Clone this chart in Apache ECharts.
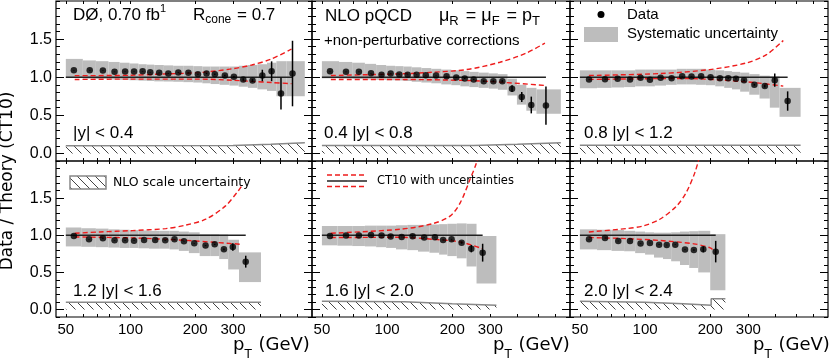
<!DOCTYPE html>
<html>
<head>
<meta charset="utf-8">
<script src="https://cdn.jsdelivr.net/npm/echarts@6/dist/echarts.min.js"></script>
<style>
html,body{margin:0;padding:0;background:#fff}
#chart{width:831px;height:360px}
</style>
</head>
<body>
<div id="chart"></div>
<script>
// tick labels
var xTickVals = [50, 60, 70, 80, 90, 100, 200, 300, 400, 500, 600];
var xLabelVals = [50, 100, 200, 300];
var yMajorVals = [0, 0.5, 1, 1.5];
var rapidityLabels = ['|y| < 0.4', '0.4 |y| < 0.8', '0.8 |y| < 1.2', '1.2 |y| < 1.6', '1.6 |y| < 2.0', '2.0 |y| < 2.4'];

// |y| < 0.4
var pt0 = [54.5,64.6,74.4,84.3,94.4,103.9,113.9,123.6,136,150,167,186,206,226,247,275,303,335,370,411,454,502,568];
var ratio0 = [1.091,1.091,1.087,1.07,1.074,1.074,1.078,1.065,1.057,1.048,1.061,1.057,1.039,1.048,1.039,1.022,1.005,0.97,0.957,1.022,1.078,0.787,1.048];
var stat0 = [0.004,0.004,0.004,0.004,0.004,0.004,0.004,0.004,0.004,0.005,0.005,0.006,0.007,0.008,0.009,0.01,0.012,0.015,0.02,0.076,0.13,0.21,0.43];
var edges0 = [50,60,69,79,89,99,109,119,129,143,158,176,196,216,236,260,289,319,352,390,432,478,532,648];
var sysHi0 = [1.24,1.22,1.21,1.2,1.19,1.18,1.17,1.165,1.16,1.155,1.15,1.15,1.145,1.14,1.14,1.14,1.14,1.15,1.16,1.17,1.19,1.21,1.21];
var sysLo0 = [0.99,0.98,0.975,0.97,0.965,0.96,0.955,0.95,0.945,0.943,0.94,0.935,0.93,0.92,0.91,0.9,0.89,0.875,0.86,0.84,0.82,0.75,0.75];
var ctUpPt0 = [55,100,136,209,297,367,454,562];
var ctUp0 = [1.02,1.025,1.04,1.06,1.11,1.16,1.24,1.37];
var ctDnPt0 = [55,100,209,297,367,454,562];
var ctDn0 = [0.97,0.975,0.975,0.96,0.945,0.93,0.915];
var scalePt0 = [50,300,450,648];
var scale0 = [0.10,0.105,0.12,0.14];

// 0.4 < |y| < 0.8
var pt1 = [54.5,64.6,74.1,84.3,94.3,103.9,113.9,124.5,136.9,151,168.4,188.3,208.7,228.4,251.3,279.6,309.8,340.9,377.9,419,463.7,542];
var ratio1 = [1.078,1.07,1.07,1.052,1.031,1.048,1.035,1.031,1.031,1.026,1.022,1.013,0.996,0.983,0.97,0.948,0.948,0.948,0.849,0.739,0.635,0.627];
var stat1 = [0.004,0.004,0.004,0.004,0.004,0.004,0.004,0.004,0.004,0.004,0.004,0.004,0.006,0.007,0.008,0.01,0.012,0.015,0.045,0.065,0.11,0.25];
var edges1 = [50,60,69,79,89,99,109,119,130,144,160,178,198,218,240,265,295,325,360,398,440,490,635];
var sysHi1 = [1.21,1.2,1.19,1.175,1.16,1.15,1.145,1.14,1.13,1.12,1.11,1.1,1.09,1.08,1.07,1.06,1.05,1.04,0.98,0.9,0.86,0.84];
var sysLo1 = [0.985,0.98,0.975,0.97,0.965,0.96,0.957,0.95,0.94,0.93,0.92,0.905,0.895,0.88,0.87,0.86,0.85,0.835,0.76,0.64,0.56,0.52];
var ctUpPt1 = [55,115,163,233,332,441,536];
var ctUp1 = [1.022,1.044,1.065,1.1,1.196,1.318,1.448];
var ctDnPt1 = [55,115,233,332,536];
var ctDn1 = [0.97,0.97,0.957,0.935,0.892];
var scalePt1 = [50,250,400,635];
var scale1 = [0.104,0.105,0.12,0.14];

// 0.8 < |y| < 1.2
var pt2 = [55.1,65.3,74.7,85.2,95.3,105.3,118,132.6,148.4,163.9,181.5,200.7,221.7,242.3,263,286.6,319.9,357.4,397.3,455.7];
var ratio2 = [0.97,0.974,0.979,0.97,0.992,0.966,0.992,0.987,1.013,1.009,1.013,1.0,0.987,0.987,0.979,0.961,0.901,0.883,0.961,0.687];
var stat2 = [0.004,0.004,0.004,0.004,0.004,0.004,0.004,0.004,0.004,0.004,0.005,0.005,0.006,0.007,0.008,0.01,0.012,0.018,0.087,0.127];
var edges2 = [50,60,70,80,90,100,111,125,140,156,172,191,211,232,252,275,303,338,377,418,523];
var sysHi2 = [1.09,1.09,1.09,1.09,1.1,1.1,1.1,1.1,1.11,1.11,1.11,1.1,1.09,1.08,1.07,1.06,1.04,1.02,1.01,0.86];
var sysLo2 = [0.855,0.86,0.865,0.87,0.88,0.88,0.89,0.9,0.905,0.905,0.9,0.895,0.88,0.86,0.84,0.81,0.77,0.72,0.6,0.48];
var ctUpPt2 = [55,118,199,294,364,435];
var ctUp2 = [1.022,1.048,1.1,1.187,1.296,1.482];
var ctDnPt2 = [55,150,294,435];
var ctDn2 = [0.97,0.983,0.939,0.883];
var scalePt2 = [50,523];
var scale2 = [0.108,0.108];

// 1.2 < |y| < 1.6
var pt3 = [54.5,64.1,74.4,84.3,94.4,103.9,115.7,130.3,145.1,160.3,177.4,198.1,223.6,246.7,272.3,299.6,344];
var ratio3 = [0.991,0.946,0.959,0.932,0.932,0.928,0.936,0.936,0.932,0.946,0.919,0.892,0.861,0.878,0.811,0.842,0.645];
var stat3 = [0.004,0.004,0.004,0.004,0.004,0.004,0.004,0.004,0.004,0.004,0.004,0.004,0.006,0.008,0.012,0.05,0.08];
var edges3 = [50,59,69,79,89,99,109,122,137,152,168,187,210,235,259,285,320,405];
var sysHi3 = [1.105,1.095,1.09,1.08,1.075,1.07,1.065,1.06,1.06,1.06,1.05,1.04,1.015,1.015,1.01,0.94,0.77];
var sysLo3 = [0.85,0.845,0.84,0.835,0.83,0.83,0.825,0.82,0.82,0.81,0.79,0.76,0.72,0.72,0.68,0.54,0.37];
var ctUpPt3 = [55,72,102,146,180,224,277,318,330];
var ctUp3 = [1.027,1.045,1.063,1.09,1.135,1.216,1.396,1.6,1.666];
var ctDnPt3 = [55,102,180,330];
var ctDn3 = [0.977,0.965,0.932,0.878];
var scalePt3 = [50,405];
var scale3 = [0.1,0.1];

// 1.6 < |y| < 2.0
var pt4 = [54.5,64.6,74.1,84.3,94.3,103.9,116.8,131.2,148.4,166.3,181.5,198.6,221,245,276.4];
var ratio4 = [0.991,0.996,0.996,1.004,0.996,0.982,0.977,0.986,0.969,0.973,0.937,0.946,0.901,0.82,0.766];
var stat4 = [0.004,0.004,0.004,0.004,0.004,0.004,0.004,0.004,0.004,0.004,0.005,0.006,0.015,0.05,0.12];
var edges4 = [50,59,69,79,89,99,110,124,139,157,174,190,210,233,259,320];
var sysHi4 = [1.125,1.125,1.125,1.13,1.13,1.13,1.135,1.14,1.14,1.145,1.15,1.155,1.16,1.155,0.99];
var sysLo4 = [0.865,0.86,0.855,0.85,0.84,0.83,0.81,0.8,0.78,0.765,0.74,0.72,0.69,0.58,0.35];
var ctUpPt4 = [55,115,163,196,218,242,259,275];
var ctUp4 = [1.027,1.081,1.158,1.261,1.44,1.757,1.98,2.3];
var ctDnPt4 = [55,115,163,218,276];
var ctDn4 = [0.969,0.973,0.946,0.91,0.82];
var scalePt4 = [50,120,200,320];
var scale4 = [0.112,0.105,0.08,0.058];

// 2.0 < |y| < 2.4
var pt5 = [55.1,65.3,75.2,85.2,95.3,105.3,116.1,125.9,137.9,152.9,168.1,185.8,212];
var ratio5 = [0.946,0.964,0.923,0.923,0.888,0.896,0.874,0.869,0.874,0.807,0.801,0.811,0.78];
var stat5 = [0.004,0.004,0.004,0.004,0.004,0.004,0.004,0.004,0.004,0.004,0.01,0.04,0.145];
var edges5 = [50,60,70,80,90,100,110,121,132,145,160,176,200,235];
var sysHi5 = [1.08,1.075,1.07,1.06,1.05,1.04,1.035,1.035,1.04,1.05,1.055,1.06,1.015];
var sysLo5 = [0.81,0.8,0.79,0.785,0.76,0.74,0.7,0.68,0.65,0.6,0.56,0.5,0.26];
var ctUpPt5 = [55,82,98,117,140,155,170,180];
var ctUp5 = [1.045,1.09,1.126,1.216,1.396,1.577,1.847,2.1];
var ctDnPt5 = [55,82,117,168,200,212];
var ctDn5 = [0.97,0.955,0.93,0.885,0.83,0.77];
var scalePt5 = [50,100,150,202,202,235];
var scale5 = [0.112,0.1,0.08,0.058,0.145,0.145];

var panels = [
  {pt:pt0, ratio:ratio0, stat:stat0, edges:edges0, hi:sysHi0, lo:sysLo0, upX:ctUpPt0, up:ctUp0, dnX:ctDnPt0, dn:ctDn0, scX:scalePt0, sc:scale0},
  {pt:pt1, ratio:ratio1, stat:stat1, edges:edges1, hi:sysHi1, lo:sysLo1, upX:ctUpPt1, up:ctUp1, dnX:ctDnPt1, dn:ctDn1, scX:scalePt1, sc:scale1},
  {pt:pt2, ratio:ratio2, stat:stat2, edges:edges2, hi:sysHi2, lo:sysLo2, upX:ctUpPt2, up:ctUp2, dnX:ctDnPt2, dn:ctDn2, scX:scalePt2, sc:scale2},
  {pt:pt3, ratio:ratio3, stat:stat3, edges:edges3, hi:sysHi3, lo:sysLo3, upX:ctUpPt3, up:ctUp3, dnX:ctDnPt3, dn:ctDn3, scX:scalePt3, sc:scale3},
  {pt:pt4, ratio:ratio4, stat:stat4, edges:edges4, hi:sysHi4, lo:sysLo4, upX:ctUpPt4, up:ctUp4, dnX:ctDnPt4, dn:ctDn4, scX:scalePt4, sc:scale4},
  {pt:pt5, ratio:ratio5, stat:stat5, edges:edges5, hi:sysHi5, lo:sysLo5, upX:ctUpPt5, up:ctUp5, dnX:ctDnPt5, dn:ctDn5, scX:scalePt5, sc:scale5}
];

// panel boxes
var gridPos = [
  {left:56, top:1, width:256, height:160},
  {left:312, top:1, width:258, height:160},
  {left:570, top:1, width:258, height:160},
  {left:56, top:161, width:256, height:156},
  {left:312, top:161, width:258, height:156},
  {left:570, top:161, width:258, height:156}
];

var SANS = 'Liberation Sans';
var DEJA = 'DejaVu Sans';
var RED = '#ee1c1c';
var GRAY = '#bdbdbd';

// hatch for the NLO scale band
var hatch = document.createElement('canvas');
hatch.width = 9; hatch.height = 9;
var hc = hatch.getContext('2d');
hc.strokeStyle = '#444';
hc.lineWidth = 1;
hc.beginPath();
hc.moveTo(0, 0); hc.lineTo(9, 9);
hc.moveTo(-1, 8); hc.lineTo(1, 10);
hc.moveTo(8, -1); hc.lineTo(10, 1);
hc.stroke();

function zip(a, b) {
  return a.map(function (v, k) { return [v, b[k]]; });
}

var grids = [], xAxes = [], yAxes = [], series = [];

gridPos.forEach(function (g, i) {
  grids.push({left:g.left, top:g.top, width:g.width, height:g.height, show:true,
    borderColor:'#000', borderWidth:1.2, backgroundColor:'transparent'});
  ['bottom', 'top'].forEach(function (pos) {
    xAxes.push({type:'log', logBase:10, gridIndex:i, position:pos, min:45, max:700,
      axisLine:{show:false, onZero:false}, splitLine:{show:false}, minorTick:{show:false},
      axisTick:{show:true, inside:true, length:3, customValues:xTickVals, lineStyle:{color:'#000', width:1}},
      axisLabel:{show:(pos === 'bottom' && i >= 3), customValues:xLabelVals, margin:5,
        fontSize:15, fontFamily:SANS, color:'#000',
        formatter:function (v) { return String(Math.round(v)); }}});
  });
  ['left', 'right'].forEach(function (pos) {
    // minor ticks every 0.1
    yAxes.push({type:'value', gridIndex:i, position:pos, min:-0.1, max:2.0, interval:0.1,
      axisLine:{show:false, onZero:false}, splitLine:{show:false},
      axisTick:{show:true, inside:true, length:4, lineStyle:{color:'#000', width:1}},
      axisLabel:{show:false}});
    // major ticks + labels
    yAxes.push({type:'value', gridIndex:i, position:pos, min:-0.1, max:2.0,
      axisLine:{show:false, onZero:false}, splitLine:{show:false},
      axisTick:{show:true, inside:true, length:8, customValues:yMajorVals, lineStyle:{color:'#000', width:1}},
      axisLabel:{show:(pos === 'left' && i % 3 === 0), customValues:yMajorVals, margin:4,
        fontSize:16, fontFamily:SANS, color:'#000',
        formatter:function (v) { return v.toFixed(1); }}});
  });
});

panels.forEach(function (p, i) {
  var xi = 2 * i, yi = 4 * i + 1;
  var last = p.pt.length - 1;

  var boxes = p.hi.map(function (h, k) { return [p.edges[k], p.edges[k + 1], p.lo[k], h]; });
  series.push({type:'custom', name:'Systematic uncertainty', xAxisIndex:xi, yAxisIndex:yi, z:1, silent:true,
    data:boxes, encode:{x:[0, 1], y:[2, 3]},
    renderItem:function (params, api) {
      var a = api.coord([api.value(0), api.value(3)]);
      var b = api.coord([api.value(1), api.value(2)]);
      return {type:'rect', shape:{x:a[0], y:a[1], width:b[0] - a[0], height:b[1] - a[1]}, style:{fill:GRAY}};
    }});

  series.push({type:'line', name:'NLO scale uncertainty', xAxisIndex:xi, yAxisIndex:yi, z:2, silent:true,
    data:zip(p.scX, p.sc), symbol:'none',
    lineStyle:{color:'#888', width:1.5},
    areaStyle:{color:{image:hatch, repeat:'repeat'}, opacity:1}});

  series.push({type:'line', name:'CT10', xAxisIndex:xi, yAxisIndex:yi, z:3, silent:true,
    data:[[p.edges[0], 1], [p.pt[last], 1]], symbol:'none',
    lineStyle:{color:'#222', width:1.6}});

  [[p.upX, p.up], [p.dnX, p.dn]].forEach(function (c) {
    series.push({type:'line', name:'CT10 unc', xAxisIndex:xi, yAxisIndex:yi, z:4, silent:true,
      data:zip(c[0], c[1]), symbol:'none', smooth:0.3, clip:true,
      lineStyle:{color:RED, width:1.4, type:[5, 3]}});
  });

  var bars = p.pt.map(function (x, k) { return [x, p.ratio[k] - p.stat[k], p.ratio[k] + p.stat[k]]; });
  series.push({type:'custom', name:'stat', xAxisIndex:xi, yAxisIndex:yi, z:5, silent:true,
    data:bars, encode:{x:0, y:[1, 2]},
    renderItem:function (params, api) {
      var a = api.coord([api.value(0), api.value(1)]);
      var b = api.coord([api.value(0), api.value(2)]);
      return {type:'line', shape:{x1:a[0], y1:a[1], x2:b[0], y2:b[1]}, style:{stroke:'#000', lineWidth:1.5}};
    }});

  series.push({type:'scatter', name:'Data', xAxisIndex:xi, yAxisIndex:yi, z:6, silent:true,
    data:zip(p.pt, p.ratio), symbol:'circle', symbolSize:6.5,
    itemStyle:{color:'#000'}});
});

// text helpers
var mctx = document.createElement('canvas').getContext('2d');
function textRun(x, y, parts, family) {
  var out = [], cx = x;
  parts.forEach(function (q) {
    var font = q[1] + 'px "' + family + '"';
    mctx.font = font;
    out.push({type:'text', x:cx, y:y + (q[2] || 0), silent:true,
      style:{text:q[0], font:font, fill:'#000', textAlign:'left', align:'left',
        textVerticalAlign:'middle', verticalAlign:'middle'}});
    cx += mctx.measureText(q[0]).width + (q[3] || 0);
  });
  return out;
}

var graphics = [];
function add(list) { graphics = graphics.concat(list); }

add(textRun(73, 15, [['DØ, 0.70 fb', 17], ['1', 11, -6]], SANS));
add(textRun(193, 15, [['R', 17], ['cone', 12, 5, 1], [' = 0.7', 17]], SANS));
add(textRun(325, 16, [['NLO pQCD', 17]], SANS));
add(textRun(439, 16, [['μ', 18], ['R', 13, 5, 2], [' = μ', 18], ['F', 13, 5, 2], [' = p', 18], ['T', 13, 5]], SANS));
add(textRun(324, 41, [['+non-perturbative corrections', 15]], SANS));

// legend: data / systematic
graphics.push({type:'circle', shape:{cx:601, cy:14.5, r:3.5}, style:{fill:'#000'}, silent:true});
add(textRun(627, 15, [['Data', 15]], SANS));
graphics.push({type:'rect', shape:{x:584, y:27, width:34, height:15}, style:{fill:GRAY}, silent:true});
add(textRun(627, 34, [['Systematic uncertainty', 15]], SANS));

// legend: scale uncertainty
graphics.push({type:'rect', shape:{x:70, y:176, width:36, height:13},
  style:{fill:{image:hatch, repeat:'repeat'}, stroke:'#888', lineWidth:1.5}, silent:true});
add(textRun(113, 182.5, [['NLO scale uncertainty', 12.5]], DEJA));

// legend: CT10
graphics.push({type:'line', shape:{x1:327, y1:175, x2:367, y2:175}, style:{stroke:RED, lineWidth:1.3, lineDash:[5, 3]}, silent:true});
graphics.push({type:'line', shape:{x1:327, y1:181, x2:367, y2:181}, style:{stroke:'#222', lineWidth:1.5}, silent:true});
graphics.push({type:'line', shape:{x1:327, y1:186.5, x2:367, y2:186.5}, style:{stroke:RED, lineWidth:1.3, lineDash:[5, 3]}, silent:true});
add(textRun(377, 181, [['CT10 with uncertainties', 11.5]], DEJA));

// rapidity bins
var rapPos = [[73, 133], [324, 133], [584, 133], [73, 291], [325, 291], [584, 291]];
rapidityLabels.forEach(function (t, k) {
  add(textRun(rapPos[k][0], rapPos[k][1], [[t, 17]], SANS));
});

// axis titles
[233, 493, 753].forEach(function (x) {
  add(textRun(x, 345, [['p', 18], ['T', 12, 10, 1], [' (GeV)', 18]], DEJA));
});
graphics.push({type:'text', x:8, y:181, rotation:Math.PI / 2, silent:true,
  style:{text:'Data / Theory (CT10)', font:'17px "DejaVu Sans"', fill:'#000',
    textAlign:'center', align:'center', textVerticalAlign:'middle', verticalAlign:'middle'}});

var chart = echarts.init(document.getElementById('chart'), null, {renderer:'canvas'});
chart.setOption({
  animation:false,
  backgroundColor:'#fff',
  grid:grids,
  xAxis:xAxes,
  yAxis:yAxes,
  series:series,
  graphic:{elements:graphics}
});
</script>
</body>
</html>
